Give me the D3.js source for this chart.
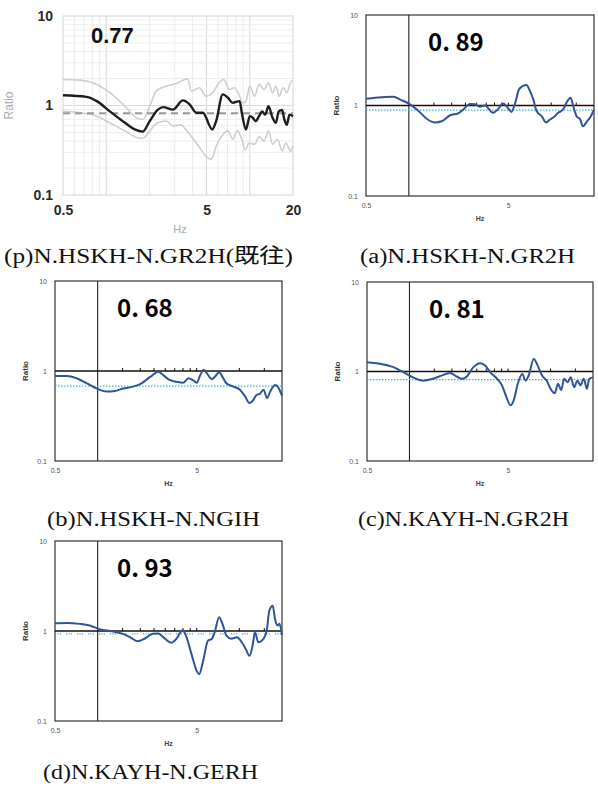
<!DOCTYPE html>
<html lang="ja">
<head>
<meta charset="UTF-8">
<title>Ratio</title>
<script src="https://d3js.org/d3.v7.min.js"></script>
<style>
  body { margin: 0; background: #fff; }
  svg { display: block; }
  .cap { font-family: "Liberation Serif", "Noto Sans CJK JP", serif; font-size: 20px; fill: #111; }
  .val { font-family: "Noto Sans CJK JP", sans-serif; font-size: 24px; font-weight: 700; fill: #000; }
  .sm { font-family: "Liberation Sans", Arial, sans-serif; font-size: 7px; fill: #555; }
</style>
</head>
<body>
<svg width="598" height="791"></svg>
<script>
// --- data: [Hz, ratio] ---
const pMean = [[0.5,1.30],[0.73,1.25],[0.86,1.12],[1.06,0.86],[1.35,0.64],[1.58,0.54],[1.79,0.51],[2.01,0.67],[2.29,0.90],[2.49,0.96],[2.92,0.90],[3.42,1.14],[3.81,1.03],[4.24,0.83],[4.71,0.83],[5.48,0.54],[5.83,0.67],[6.49,1.33],[7.05,1.22],[7.6,1.07],[8.5,1.12],[8.8,0.83],[9.4,0.54],[10.0,0.76],[10.5,0.73],[11.0,0.67],[11.6,0.76],[12.2,0.86],[12.8,0.79],[13.5,0.98],[14.4,0.73],[15.2,0.64],[15.9,0.86],[16.8,0.89],[17.4,0.70],[18.1,0.61],[18.9,0.79],[20,0.76]];
const pUpper = [[0.5,1.95],[0.66,1.92],[0.86,1.72],[1.06,1.39],[1.35,0.98],[1.62,0.73],[1.81,0.70],[2.01,0.98],[2.23,1.45],[2.62,1.64],[3.08,1.76],[3.7,1.99],[3.91,1.45],[4.47,1.58],[4.95,1.27],[5.5,1.39],[6.1,1.79],[6.6,1.95],[7.2,1.51],[7.8,1.58],[8.5,1.27],[8.9,1.07],[9.4,1.12],[10.0,1.64],[10.8,1.27],[11.6,1.72],[12.6,1.51],[13.5,1.79],[14.4,1.39],[15.2,1.64],[16,1.27],[17.1,1.58],[18.1,1.39],[19.5,1.87],[20,1.87]];
const pLower = [[0.5,0.86],[0.66,0.83],[0.86,0.76],[1.06,0.64],[1.35,0.52],[1.62,0.44],[1.81,0.43],[2.01,0.52],[2.29,0.64],[2.62,0.67],[2.92,0.59],[3.3,0.61],[3.65,0.52],[4.05,0.42],[4.47,0.34],[4.95,0.27],[5.4,0.25],[5.83,0.35],[6.49,0.47],[7.05,0.52],[7.6,0.42],[8.2,0.52],[8.8,0.42],[9.3,0.32],[9.9,0.38],[10.8,0.37],[11.6,0.45],[12.6,0.40],[13.5,0.52],[14.4,0.37],[15.6,0.42],[16.8,0.31],[17.8,0.38],[19.3,0.31],[20,0.35]];
const aCurve = [[0.5,1.19],[0.58,1.22],[0.78,1.25],[0.87,1.16],[1.0,1.05],[1.17,0.87],[1.34,0.71],[1.53,0.65],[1.70,0.67],[1.95,0.78],[2.22,0.82],[2.41,0.90],[2.69,1.04],[2.91,1.03],[3.15,0.97],[3.42,1.0],[3.9,0.83],[4.2,0.90],[4.6,1.05],[4.97,0.94],[5.26,0.85],[5.55,1.03],[5.98,1.53],[6.7,1.68],[7.1,1.44],[7.5,1.16],[7.9,0.87],[8.6,0.76],[9.2,0.65],[9.8,0.70],[10.6,0.76],[11.2,0.83],[11.8,0.87],[12.3,0.94],[12.8,1.07],[13.7,1.22],[14.3,0.98],[15.1,0.76],[16.0,0.70],[16.7,0.59],[17.9,0.67],[19.0,0.76],[20,0.90]];
const bCurve = [[0.5,0.88],[0.61,0.88],[0.71,0.83],[0.84,0.73],[0.98,0.64],[1.16,0.59],[1.32,0.60],[1.51,0.64],[1.78,0.67],[2.04,0.73],[2.35,0.86],[2.68,0.98],[2.9,0.90],[3.24,0.79],[3.6,0.76],[4.0,0.74],[4.38,0.83],[4.7,0.79],[5.0,0.74],[5.3,0.90],[5.6,1.03],[5.9,0.94],[6.4,0.81],[6.7,0.86],[7.2,0.97],[7.6,0.86],[8.1,0.73],[9.1,0.67],[10.1,0.62],[11.0,0.52],[11.8,0.44],[12.6,0.48],[13.2,0.54],[14.0,0.56],[14.8,0.62],[15.7,0.50],[16.5,0.59],[17.9,0.70],[19.0,0.64],[20,0.53]];
const cCurve = [[0.5,1.27],[0.62,1.22],[0.77,1.12],[0.91,0.98],[1.06,0.86],[1.25,0.79],[1.47,0.83],[1.69,0.90],[1.94,0.96],[2.16,0.88],[2.37,0.83],[2.55,0.88],[2.84,1.12],[3.17,1.24],[3.44,1.17],[3.74,0.98],[4.17,0.83],[4.53,0.70],[4.86,0.52],[5.2,0.42],[5.49,0.48],[5.86,0.73],[6.3,0.94],[6.65,0.79],[7.0,0.90],[7.6,1.38],[8.1,1.17],[8.7,0.90],[9.4,0.79],[10.0,0.64],[10.7,0.57],[11.3,0.73],[11.9,0.62],[12.5,0.83],[13.2,0.76],[13.9,0.86],[14.7,0.67],[15.5,0.79],[16.3,0.70],[17.2,0.83],[18.1,0.64],[18.8,0.83],[20,0.86]];
const dCurve = [[0.5,1.22],[0.61,1.23],[0.75,1.20],[0.88,1.15],[1.03,1.05],[1.26,0.99],[1.51,0.93],[1.72,0.84],[1.92,0.77],[2.14,0.82],[2.45,0.93],[2.68,0.94],[2.99,0.82],[3.3,0.74],[3.6,0.82],[3.96,1.01],[4.2,0.89],[4.6,0.55],[5.0,0.36],[5.2,0.33],[5.56,0.47],[6.0,0.78],[6.4,0.82],[6.7,0.97],[7.2,1.42],[7.6,1.20],[8.1,0.89],[8.8,0.82],[9.6,0.85],[10.4,0.75],[11.1,0.63],[11.8,0.53],[12.4,0.69],[12.9,0.97],[13.6,0.75],[14.8,0.82],[15.6,1.01],[16.3,1.70],[17.2,1.91],[17.9,1.33],[18.6,1.15],[19.2,1.20],[20,0.90]];

const refValues = [0.82, 0.89, 0.68, 0.81, 0.93];
const valueLabels = ["0.77", "0. 89", "0. 68", "0. 81", "0. 93"];
const captions = ["(p)N.HSKH-N.GR2H(既往)", "(a)N.HSKH-N.GR2H", "(b)N.HSKH-N.NGIH", "(c)N.KAYH-N.GR2H", "(d)N.KAYH-N.GERH"];
const yTicks = [0.1, 1, 10];
const xTicksP = [0.5, 5, 20];
const xTicksS = [0.5, 5];
const onLineTicks = [1.5, 2, 2.5, 3, 3.5, 4, 4.5, 5, 10, 15];
const xDomain = [0.5, 20];
const yDomain = [0.1, 10];

const svg = d3.select("svg");
svg.append("rect").attr("width", 598).attr("height", 791).attr("fill", "#fff");

// panel boxes
const boxes = [
    {x0: 63, x1: 293, y0: 16, y1: 195},
    {x0: 366, x1: 594, y0: 15, y1: 196},
    {x0: 55, x1: 282, y0: 281, y1: 461},
    {x0: 367, x1: 593, y0: 282, y1: 461},
    {x0: 55, x1: 282, y0: 541, y1: 721}
];
// caption x, baseline y, width
const capPos = [[4, 263, 289], [360, 263, 215], [47, 526, 213], [358, 526, 211], [43, 779, 215]];

function scales(b) {
    const x = d3.scaleLog().domain(xDomain).range([b.x0, b.x1]);
    const y = d3.scaleLog().domain(yDomain).range([b.y1, b.y0]);
    return {x, y};
}

// ---------- panel p (previous study) ----------
(function() {
    const b = boxes[0];
    const {x, y} = scales(b);
    const g = svg.append("g");
    const vGrid = [0.6, 0.7, 0.8, 0.9, 1, 2, 3, 4, 5, 6, 7, 8, 9, 10];
    const hGrid = [0.2, 0.3, 0.4, 0.5, 0.6, 0.7, 0.8, 0.9, 1, 2, 3, 4, 5, 6, 7, 8, 9];
    g.selectAll(".vg").data(vGrid).enter().append("line")
        .attr("x1", d => x(d)).attr("x2", d => x(d)).attr("y1", b.y0).attr("y2", b.y1)
        .attr("stroke", d => (d === 1 || d === 5 || d === 10) ? "#d8d8d8" : "#ececec").attr("stroke-width", 1);
    g.selectAll(".hg").data(hGrid).enter().append("line")
        .attr("y1", d => y(d)).attr("y2", d => y(d)).attr("x1", b.x0).attr("x2", b.x1)
        .attr("stroke", d => d === 1 ? "#dcdcdc" : "#eeeeee").attr("stroke-width", 1);
    g.append("rect").attr("x", b.x0).attr("y", b.y0).attr("width", b.x1 - b.x0).attr("height", b.y1 - b.y0)
        .attr("fill", "none").attr("stroke", "#d4d4d4");

    const line = d3.line().x(d => x(d[0])).y(d => y(d[1])).curve(d3.curveMonotoneX);
    [pUpper, pLower].forEach(s => {
        g.append("path").datum(s).attr("d", line).attr("fill", "none")
            .attr("stroke", "#cfcfcf").attr("stroke-width", 1.6);
    });
    g.append("line").attr("x1", b.x0).attr("x2", b.x1).attr("y1", y(refValues[0])).attr("y2", y(refValues[0]))
        .attr("stroke", "#9a9a9a").attr("stroke-width", 2).attr("stroke-dasharray", "7,5");
    g.append("path").datum(pMean).attr("d", line).attr("fill", "none")
        .attr("stroke", "#1e1e1e").attr("stroke-width", 2.4);

    const yAxis = d3.axisLeft(y).tickValues(yTicks).tickSize(0).tickPadding(10).tickFormat(d3.format("~g"));
    const ga = g.append("g").attr("transform", `translate(${b.x0},0)`).call(yAxis);
    const xAxis = d3.axisBottom(x).tickValues(xTicksP).tickSize(0).tickPadding(10).tickFormat(d3.format("~g"));
    const gx = g.append("g").attr("transform", `translate(0,${b.y1})`).call(xAxis);
    [ga, gx].forEach(a => {
        a.select(".domain").remove();
        a.selectAll("text").attr("font-family", "Liberation Sans, Arial, sans-serif")
            .attr("font-size", 14).attr("font-weight", "bold").attr("fill", "#2a2a2a");
    });
    g.append("text").attr("transform", `translate(13,${(b.y0 + b.y1) / 2}) rotate(-90)`)
        .attr("text-anchor", "middle").attr("font-family", "Liberation Sans, Arial, sans-serif")
        .attr("font-size", 12).attr("fill", "#aaa").text("Ratio");
    g.append("text").attr("x", 180).attr("y", 233).attr("text-anchor", "middle")
        .attr("font-family", "Liberation Sans, Arial, sans-serif").attr("font-size", 11).attr("fill", "#aaa").text("Hz");
    g.append("text").attr("x", 91).attr("y", 43).attr("font-family", "Liberation Sans, Arial, sans-serif")
        .attr("font-size", 22).attr("font-weight", "bold").attr("fill", "#111").text(valueLabels[0]);
})();

// ---------- panels a-d ----------
const curves = [aCurve, bCurve, cCurve, dCurve];
curves.forEach((data, i) => {
    const k = i + 1;
    const b = boxes[k];
    const {x, y} = scales(b);
    const g = svg.append("g");

    g.append("rect").attr("x", b.x0).attr("y", b.y0).attr("width", b.x1 - b.x0).attr("height", b.y1 - b.y0)
        .attr("fill", "none").attr("stroke", "#222").attr("stroke-width", 1.1);
    g.append("line").attr("x1", x(1)).attr("x2", x(1)).attr("y1", b.y0).attr("y2", b.y1)
        .attr("stroke", "#222").attr("stroke-width", 1.1);
    g.append("line").attr("x1", b.x0).attr("x2", b.x1).attr("y1", y(1)).attr("y2", y(1))
        .attr("stroke", "#111").attr("stroke-width", 1.3);
    g.selectAll(".tk").data(onLineTicks).enter().append("line")
        .attr("x1", d => x(d)).attr("x2", d => x(d)).attr("y1", y(1)).attr("y2", y(1) - 3)
        .attr("stroke", "#111").attr("stroke-width", 1);
    g.append("line").attr("x1", b.x0).attr("x2", b.x1).attr("y1", y(refValues[k])).attr("y2", y(refValues[k]))
        .attr("stroke", "#3cb2e0").attr("stroke-width", 1.2)
        .attr("stroke-dasharray", k === 4 ? "1.2,1.2,1.2,1.2,1.2,5" : "1.5,1.5");

    const line = d3.line().x(d => x(d[0])).y(d => y(d[1])).curve(d3.curveMonotoneX);
    g.append("path").datum(data).attr("d", line).attr("fill", "none")
        .attr("stroke", "#2f5597").attr("stroke-width", 2);

    const yAxis = d3.axisLeft(y).tickValues(yTicks).tickSize(0).tickPadding(8).tickFormat(d3.format("~g"));
    const ga = g.append("g").attr("transform", `translate(${b.x0},0)`).call(yAxis);
    const xAxis = d3.axisBottom(x).tickValues(xTicksS).tickSize(0).tickPadding(7).tickFormat(d3.format("~g"));
    const gx = g.append("g").attr("transform", `translate(0,${b.y1})`).call(xAxis);
    [ga, gx].forEach(a => {
        a.select(".domain").remove();
        a.selectAll("text").attr("class", "sm").attr("font-size", null).attr("font-family", null).attr("fill", null);
    });
    g.append("text").attr("transform", `translate(${b.x0 - 27},${(b.y0 + b.y1) / 2}) rotate(-90)`)
        .attr("text-anchor", "middle").attr("font-family", "Liberation Sans, Arial, sans-serif")
        .attr("font-size", 8).attr("font-weight", "bold").attr("fill", "#333").text("Ratio");
    g.append("text").attr("x", (b.x0 + b.x1) / 2).attr("y", b.y1 + 25).attr("text-anchor", "middle")
        .attr("font-family", "Liberation Sans, Arial, sans-serif").attr("font-size", 7)
        .attr("font-weight", "bold").attr("fill", "#444").text("Hz");
    g.append("text").attr("class", "val").attr("x", b.x0 + 62).attr("y", b.y0 + 36).text(valueLabels[k]);
});

// captions (text in the source is slightly wide, so stretch to the measured width)
captions.forEach((c, i) => {
    svg.append("text").attr("class", "cap").attr("x", capPos[i][0]).attr("y", capPos[i][1])
        .attr("textLength", capPos[i][2]).attr("lengthAdjust", "spacingAndGlyphs").text(c);
});
</script>
</body>
</html>
